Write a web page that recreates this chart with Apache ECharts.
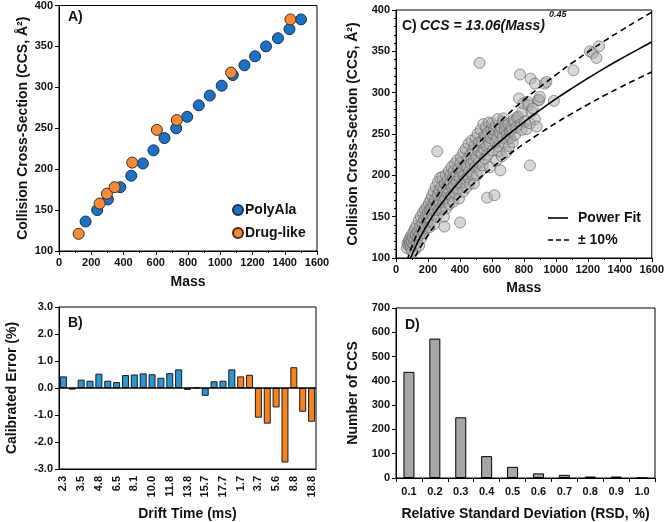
<!DOCTYPE html>
<html><head><meta charset="utf-8">
<script src="https://cdn.jsdelivr.net/npm/echarts@6/dist/echarts.min.js"></script>
<style>html,body{margin:0;padding:0;background:#fff}#c{width:667px;height:522px}</style>
</head><body><div id="c"></div>
<script>
// ---------- Panel A ----------
const polyAlaMass = [165, 237, 303, 380, 448, 520, 586, 654, 727, 795, 867, 935, 1009, 1078, 1150, 1216, 1284, 1358, 1429, 1501];
const polyAlaCCS  = [136, 150, 163, 178, 192, 207, 223, 238, 250, 264, 278, 290, 302, 315, 327, 338, 350, 360, 371, 383];
const drugMass = [122, 252, 297, 345, 454, 607, 731, 1067, 1435];
const drugCCS  = [121, 158, 170, 178, 208, 248, 260, 318, 383];

// ---------- Panel B ----------
const driftLabels = ['2.3','2.9','3.5','4.1','4.8','5.6','6.5','7.3','8.1','9.0','10.0','10.9','11.8','12.8','13.8','14.7','15.7','16.7','17.7','18.7',
                     '1.7','2.6','3.7','4.6','5.6','7.2','8.8','13.0','18.8'];
const polyAlaError = [0.43, -0.06, 0.31, 0.27, 0.53, 0.27, 0.22, 0.48, 0.50, 0.54, 0.51, 0.38, 0.55, 0.69, -0.07, 0.02, -0.29, 0.25, 0.27, 0.69];
const drugError = [0.43, 0.49, -1.10, -1.32, -0.72, -2.76, 0.77, -0.88, -1.25];

// ---------- Panel C ----------
const fitMass  = [70, 80, 90, 100, 120, 150, 200, 250, 300, 400, 500, 600, 700, 800, 900, 1000, 1100, 1200, 1300, 1400, 1500, 1600];
const fitCCS   = [88.4, 93.8, 98.9, 103.7, 112.6, 124.5, 141.7, 156.7, 170.0, 193.5, 214.0, 232.3, 249.0, 264.5, 278.8, 292.4, 305.2, 317.4, 329.1, 340.2, 350.9, 361.2];
const upperCCS = [97.2, 103.2, 108.8, 114.1, 123.9, 137.0, 155.9, 172.4, 187.0, 212.9, 235.4, 255.5, 273.9, 291.0, 306.7, 321.6, 335.7, 349.1, 362.0, 374.2, 386.0, 397.3];
const lowerCCS = [79.6, 84.4, 89.0, 93.3, 101.3, 112.1, 127.5, 141.0, 153.0, 174.2, 192.6, 209.1, 224.1, 238.1, 250.9, 263.2, 274.7, 285.7, 296.2, 306.2, 315.8, 325.1];
const measuredCCS = [
 [68,112],[72,118],[78,115],[80,121],[85,118],[88,124],[92,112],[95,127],[98,119],[100,108],
 [104,125],[108,131],[110,116],[115,122],[118,135],[120,110],[124,128],[128,139],[130,118],[135,124],[138,132],[142,145],[145,115],[148,128],[150,138],
 [155,150],[158,124],[162,133],[165,142],[168,155],[172,130],[175,147],[178,138],[182,158],[185,136],[188,150],[192,162],[195,143],[198,155],
 [202,148],[205,166],[208,137],[212,158],[215,170],[218,145],[222,160],[225,175],[228,152],[232,165],[236,180],[238,141],[242,170],[245,158],[248,186],
 [252,164],[255,150],[258,229],[260,176],[263,192],[266,158],[270,182],[273,168],[276,197],[280,160],[283,186],[286,175],[290,198],[294,168],[297,183],[300,150],
 [303,138],[305,190],[308,172],[312,200],[315,160],[318,185],[322,194],[325,178],[330,205],[333,165],[337,190],[340,200],[344,175],[347,210],[350,185],
 [354,196],[357,168],[360,205],[364,188],[368,214],[371,178],[375,200],[379,192],[382,218],[386,183],[390,208],[394,172],[397,198],[401,143],
 [403,215],[407,222],[410,190],[414,205],[418,180],[421,228],[425,200],[428,212],[432,195],[436,232],[440,185],[443,210],[447,220],[450,198],
 [454,238],[457,205],[461,190],[465,225],[468,214],[472,242],[476,200],[480,230],[484,218],[487,190],[491,236],[495,210],[498,245],
 [502,222],[506,200],[510,250],[513,230],[517,215],[520,240],[523,336],[527,205],[530,255],[534,226],[538,240],[542,212],[546,262],[549,232],
 [553,248],[556,220],[560,247],[563,258],[567,235],[570,173],[573,225],[577,252],[580,264],[584,238],[588,210],[592,245],[596,256],[600,263],
 [604,230],[608,250],[612,255],[616,176],[620,240],[624,260],[628,218],[632,245],[636,268],[640,235],[645,229],[649,252],
 [653,206],[657,258],[662,223],[666,245],[670,265],[673,269],[677,238],[681,255],[685,260],[690,228],[694,250],[698,244],
 [703,262],[707,235],[712,253],[716,245],[721,258],[725,255],[730,240],[735,267],[740,265],[745,249],
 [752,258],[758,270],[766,271],[770,293],[776,322],[780,262],[786,255],[791,277],[797,287],
 [807,265],[817,256],[822,289],[828,285],[838,263],[838,212],[842,317],[848,277],[856,281],[869,268],[869,311],[880,259],[889,291],[896,291],[900,295],
 [931,311],[941,313],[988,290],[1110,327],[1213,350],[1230,348],[1254,342],[1270,356]
];

// ---------- Panel D ----------
const rsdLabels = ['0.1','0.2','0.3','0.4','0.5','0.6','0.7','0.8','0.9','1.0'];
const rsdCounts = [437, 574, 250, 90, 46, 19, 13, 6, 6, 1];

const F = '"Liberation Sans", Arial, sans-serif';
const lbl = {color:'#111', fontFamily:F, fontWeight:'bold', fontSize:11, margin:6};
const numLbl = Object.assign({}, lbl, {formatter: v => String(v)});
const nameStyle = {color:'#111', fontFamily:F, fontWeight:'bold', fontSize:14};
const axLine = {show:true, onZero:false, lineStyle:{color:'#000', width:1}};
const tick = {show:true, inside:false, length:4, lineStyle:{color:'#000'}};
const gridBase = {show:true, borderColor:'#000', borderWidth:1, backgroundColor:'transparent', containLabel:false};

const zip = (a,b) => a.map((v,i)=>[v,b[i]]);
const blueB = polyAlaError.concat(drugError.map(()=>null));
const orangeB = polyAlaError.map(()=>null).concat(drugError);

const chart = echarts.init(document.getElementById('c'), null, {renderer:'canvas'});
chart.setOption({
  animation:false,
  backgroundColor:'#fff',
  grid:[
    Object.assign({left:59, top:5, width:258, height:246}, gridBase),
    Object.assign({left:396, top:10, width:259, height:248}, gridBase),
    Object.assign({left:59, top:307, width:257, height:163}, gridBase),
    Object.assign({left:396, top:308, width:259, height:171}, gridBase)
  ],
  xAxis:[
    {gridIndex:0, type:'value', min:0, max:1600, interval:200, name:'Mass', nameLocation:'middle', nameGap:24, nameTextStyle:nameStyle,
     axisLine:axLine, axisTick:tick, minorTick:{show:true, splitNumber:2, length:2, lineStyle:{color:'#000'}}, splitLine:{show:false}, axisLabel:numLbl},
    {gridIndex:1, type:'value', min:0, max:1600, interval:200, name:'Mass', nameLocation:'middle', nameGap:23, nameTextStyle:nameStyle,
     axisLine:axLine, axisTick:tick, minorTick:{show:true, splitNumber:2, length:2, lineStyle:{color:'#000'}}, splitLine:{show:false}, axisLabel:numLbl},
    {gridIndex:2, type:'category', data:driftLabels, name:'Drift Time (ms)', nameLocation:'middle', nameGap:38, nameTextStyle:nameStyle,
     axisLine:axLine, axisTick:{show:false}, splitLine:{show:false}, axisLabel:Object.assign({}, lbl, {rotate:90, interval:1, margin:7})},
    {gridIndex:3, type:'category', data:rsdLabels, name:'Relative Standard Deviation (RSD, %)', nameLocation:'middle', nameGap:29, nameTextStyle:nameStyle,
     axisLine:axLine, axisTick:Object.assign({}, tick, {alignWithLabel:false}), splitLine:{show:false}, axisLabel:Object.assign({}, lbl, {margin:8})}
  ],
  yAxis:[
    {gridIndex:0, type:'value', min:100, max:400, interval:50, name:'Collision Cross-Section (CCS, Å²)', nameLocation:'middle', nameGap:29, nameTextStyle:nameStyle,
     axisLine:axLine, axisTick:tick, splitLine:{show:false}, axisLabel:numLbl},
    {gridIndex:1, type:'value', min:100, max:400, interval:50, name:'Collision Cross-Section (CCS, Å²)', nameLocation:'middle', nameGap:36, nameTextStyle:nameStyle,
     axisLine:axLine, axisTick:tick, minorTick:{show:true, splitNumber:5, length:2, lineStyle:{color:'#000'}}, splitLine:{show:false}, axisLabel:numLbl},
    {gridIndex:2, type:'value', min:-3, max:3, interval:1, name:'Calibrated Error (%)', nameLocation:'middle', nameGap:40, nameTextStyle:nameStyle,
     axisLine:axLine, axisTick:tick, splitLine:{show:false}, axisLabel:Object.assign({}, lbl, {formatter:v=>v.toFixed(1)})},
    {gridIndex:3, type:'value', min:0, max:700, interval:100, name:'Number of CCS', nameLocation:'middle', nameGap:36, nameTextStyle:nameStyle,
     axisLine:axLine, axisTick:tick, splitLine:{show:false}, axisLabel:numLbl}
  ],
  legend:[
    {data:['PolyAla','Drug-like'], left:232, top:203, orient:'vertical', padding:0, itemWidth:10, itemHeight:10, itemGap:9, icon:'circle',
     textStyle:{fontFamily:F, fontWeight:'bold', fontSize:14, color:'#111', padding:[0,0,0,-3]}}
  ],
  graphic:[
    {type:'text', left:68, top:10, style:{text:'A)', font:'bold 14px '+F, fill:'#111'}},
    {type:'text', left:402, top:19, style:{text:'C)', font:'bold 14px '+F, fill:'#111'}},
    {type:'text', left:420, top:19, style:{text:'CCS = 13.06(Mass)', font:'italic bold 14px '+F, fill:'#111'}},
    {type:'text', left:549, top:10, style:{text:'0.45', font:'italic bold 9px '+F, fill:'#111'}},
    {type:'text', left:68, top:316, style:{text:'B)', font:'bold 14px '+F, fill:'#111'}},
    {type:'text', left:405, top:318, style:{text:'D)', font:'bold 14px '+F, fill:'#111'}},
    // legend of panel C
    {type:'line', shape:{x1:548, y1:218, x2:568, y2:218}, style:{stroke:'#000', lineWidth:1.6}},
    {type:'text', left:578, top:211, style:{text:'Power Fit', font:'bold 14px '+F, fill:'#111'}},
    {type:'line', shape:{x1:548, y1:240, x2:570, y2:240}, style:{stroke:'#000', lineWidth:1.6, lineDash:[5,3]}},
    {type:'text', left:578, top:233, style:{text:'± 10%', font:'bold 14px '+F, fill:'#111'}}
  ],
  series:[
    {name:'PolyAla', type:'scatter', xAxisIndex:0, yAxisIndex:0, data:zip(polyAlaMass, polyAlaCCS), symbolSize:11,
     itemStyle:{color:'#1f6fc2', borderColor:'#15324f', borderWidth:1, opacity:1}},
    {name:'Drug-like', type:'scatter', xAxisIndex:0, yAxisIndex:0, data:zip(drugMass, drugCCS), symbolSize:11,
     itemStyle:{color:'#f58b3a', borderColor:'#4a2a10', borderWidth:1, opacity:1}},
    {name:'Measured', type:'scatter', xAxisIndex:1, yAxisIndex:1, data:measuredCCS, symbolSize:11, z:1,
     itemStyle:{color:'rgba(172,172,172,0.6)', borderColor:'rgba(105,105,105,0.85)', borderWidth:1}},
    {name:'Power Fit', type:'line', xAxisIndex:1, yAxisIndex:1, data:zip(fitMass, fitCCS), smooth:true, symbol:'none', z:5,
     lineStyle:{color:'#000', width:1.6, type:'solid'}, itemStyle:{color:'#000'}},
    {name:'± 10%', type:'line', xAxisIndex:1, yAxisIndex:1, data:zip(fitMass, upperCCS), smooth:true, symbol:'none', z:5,
     lineStyle:{color:'#000', width:1.6, type:[6,4]}, itemStyle:{color:'#000'}},
    {name:'± 10%', type:'line', xAxisIndex:1, yAxisIndex:1, data:zip(fitMass, lowerCCS), smooth:true, symbol:'none', z:5,
     lineStyle:{color:'#000', width:1.6, type:[6,4]}, itemStyle:{color:'#000'}},
    {name:'PolyAla Error', type:'bar', xAxisIndex:2, yAxisIndex:2, data:blueB, barWidth:7, barGap:'-100%',
     itemStyle:{color:'#2a96d2', borderColor:'#1a1a1a', borderWidth:1},
     markLine:{silent:true, symbol:['none','none'], label:{show:false}, lineStyle:{color:'#000', type:'solid', width:1.5}, data:[{yAxis:0}]}},
    {name:'Drug Error', type:'bar', xAxisIndex:2, yAxisIndex:2, data:orangeB, barWidth:7, barGap:'-100%',
     itemStyle:{color:'#f58220', borderColor:'#1a1a1a', borderWidth:1}},
    {name:'RSD', type:'bar', xAxisIndex:3, yAxisIndex:3, data:rsdCounts, barWidth:11,
     itemStyle:{color:'#a6a6a6', borderColor:'#000', borderWidth:1}}
  ]
});
</script>
</body></html>
